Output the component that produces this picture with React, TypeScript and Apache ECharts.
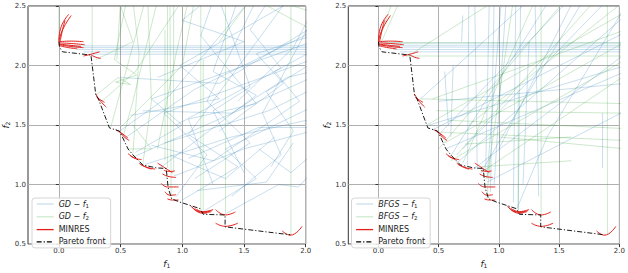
import React, { useEffect, useRef } from "react";
import * as echarts from "echarts";

type Pt = [number, number];

const xTicks = [0, 0.5, 1.0, 1.5, 2.0];
const yTicks = [0.5, 1.0, 1.5, 2.0, 2.5];

const paretoFront: Pt[] = [
  [0.0, 2.2], [0.005, 2.155], [0.03, 2.115], [0.26, 2.088], [0.3, 1.748], [0.32, 1.72],
  [0.41, 1.476], [0.49, 1.45], [0.51, 1.41], [0.56, 1.3], [0.6, 1.25], [0.68, 1.165],
  [0.79, 1.14], [0.87, 1.135], [0.885, 0.975], [0.914, 0.88], [0.98, 0.853], [1.144, 0.798],
  [1.17, 0.75], [1.347, 0.745], [1.347, 0.645], [1.876, 0.578],
];

const minresCurves: Pt[][] = [
  [[0.0, 2.2], [0.1, 2.205], [0.2, 2.2]],
  [[0.0, 2.19], [0.1, 2.185], [0.21, 2.175]],
  [[0.0, 2.18], [0.09, 2.17], [0.18, 2.16]],
  [[0.0, 2.175], [0.1, 2.16], [0.2, 2.15]],
  [[0.01, 2.165], [0.08, 2.15], [0.15, 2.14]],
  [[0.0, 2.2], [0.03, 2.3], [0.1, 2.42]],
  [[0.0, 2.21], [0.02, 2.33], [0.08, 2.43]],
  [[0.01, 2.2], [0.03, 2.3], [0.05, 2.38]],
  [[0.2, 2.08], [0.26, 2.095], [0.33, 2.115]],
  [[0.26, 2.09], [0.3, 2.07], [0.34, 2.06]],
  [[0.3, 1.76], [0.33, 1.71], [0.385, 1.65]],
  [[0.31, 1.73], [0.34, 1.71], [0.37, 1.69]],
  [[0.46, 1.46], [0.51, 1.43], [0.56, 1.39]],
  [[0.5, 1.44], [0.53, 1.4], [0.57, 1.37]],
  [[0.56, 1.26], [0.6, 1.23], [0.64, 1.21]],
  [[0.58, 1.24], [0.62, 1.22], [0.67, 1.21]],
  [[0.65, 1.18], [0.7, 1.15], [0.78, 1.13]],
  [[0.66, 1.17], [0.72, 1.14], [0.75, 1.13]],
  [[0.8, 1.18], [0.86, 1.14], [0.92, 1.1]],
  [[0.85, 1.12], [0.9, 1.11], [0.94, 1.115]],
  [[0.84, 1.09], [0.88, 1.07], [0.95, 1.06]],
  [[0.83, 1.01], [0.88, 0.98], [0.97, 0.98]],
  [[0.86, 0.94], [0.9, 0.91], [0.95, 0.915]],
  [[0.88, 0.88], [0.92, 0.87], [0.97, 0.87]],
  [[1.07, 0.82], [1.15, 0.77], [1.25, 0.79]],
  [[1.1, 0.8], [1.17, 0.77], [1.24, 0.78]],
  [[1.12, 0.79], [1.18, 0.765], [1.23, 0.77]],
  [[1.08, 0.81], [1.16, 0.76], [1.2, 0.76]],
  [[1.27, 0.79], [1.35, 0.745], [1.43, 0.77]],
  [[1.27, 0.676], [1.35, 0.649], [1.45, 0.676]],
  [[1.81, 0.61], [1.876, 0.575], [1.97, 0.649]],
];

const gdF1Paths: Pt[][] = [
  [[2.2, 2.165], [0.05, 2.165]],
  [[2.2, 2.15], [0.1, 2.15]],
  [[2.2, 2.135], [0.15, 2.135]],
  [[2.2, 2.115], [0.2, 2.115]],
  [[2.2, 2.095], [0.27, 2.095]],
  [[0.6, 1.23], [1.3, 1.55], [2.05, 1.9]],
  [[0.52, 1.38], [1.1, 1.8], [2.05, 2.28]],
  [[0.48, 1.44], [0.9, 1.75], [1.55, 2.55]],
  [[0.62, 1.27], [1.0, 1.5], [0.75, 1.72], [2.05, 2.2]],
  [[0.7, 1.17], [1.4, 1.4], [2.05, 1.55]],
  [[0.82, 1.14], [1.6, 1.75], [1.25, 1.95], [1.45, 2.55]],
  [[0.93, 1.07], [1.5, 1.3], [2.05, 1.45]],
  [[0.95, 0.9], [1.2, 1.25], [0.85, 1.6], [2.05, 2.05]],
  [[1.0, 0.87], [1.45, 1.15], [1.05, 1.42], [1.85, 2.55]],
  [[1.18, 0.78], [1.6, 1.05], [1.35, 1.3], [2.05, 1.65]],
  [[1.36, 0.76], [1.78, 1.0], [1.94, 0.98], [2.05, 1.1]],
  [[1.4, 0.9], [1.8, 1.25], [1.65, 1.6], [2.05, 2.38]],
  [[1.1, 1.05], [1.55, 1.35], [1.2, 1.7], [1.6, 2.55]],
  [[0.75, 1.33], [1.25, 1.2], [1.95, 1.7], [1.75, 1.95], [2.05, 2.12]],
  [[0.58, 1.58], [1.3, 1.72], [0.98, 2.0], [1.9, 2.55]],
  [[0.86, 1.35], [1.7, 1.62], [2.05, 1.8]],
  [[1.5, 1.1], [1.25, 1.62], [1.55, 1.82], [1.3, 2.55]],
  [[1.72, 1.15], [1.9, 1.45], [1.68, 1.78], [2.05, 2.02]],
  [[1.05, 1.22], [1.62, 1.48], [2.05, 1.48]],
  [[0.5, 1.9], [1.3, 1.85], [2.05, 2.32]],
  [[1.25, 1.0], [1.05, 1.55], [1.6, 1.68], [1.15, 2.25], [1.25, 2.55]],
  [[1.62, 1.3], [1.88, 1.1], [2.05, 1.25]],
  [[0.95, 1.5], [1.8, 1.98], [1.55, 2.3], [1.7, 2.55]],
  [[1.12, 0.95], [1.68, 1.02], [1.9, 1.35]],
  [[0.68, 1.62], [1.4, 1.6], [1.85, 1.9], [2.05, 1.95]],
  [[1.3, 1.45], [1.82, 1.85], [1.6, 2.1], [2.05, 2.25]],
  [[0.8, 1.9], [1.5, 2.2], [1.0, 2.38], [1.2, 2.55]],
  [[1.45, 1.7], [1.9, 2.15], [2.05, 2.45]],
  [[0.9, 1.25], [1.35, 1.05], [1.75, 1.4]],
];

const gdF2Paths: Pt[][] = [
  [[0.0, 2.55], [0.0, 2.2]],
  [[0.27, 2.55], [0.27, 2.1]],
  [[0.5, 2.55], [0.47, 2.05]],
  [[0.88, 2.55], [0.88, 1.14]],
  [[0.9, 2.55], [0.91, 0.9]],
  [[0.86, 2.3], [0.86, 1.2]],
  [[0.93, 2.55], [0.93, 1.1]],
  [[1.15, 2.55], [1.15, 0.78]],
  [[1.17, 2.05], [1.17, 0.78]],
  [[1.35, 2.55], [1.35, 0.75]],
  [[1.88, 2.55], [1.88, 0.58]],
  [[0.3, 1.75], [0.48, 1.9], [0.58, 1.84], [0.46, 1.86], [0.63, 1.92], [0.45, 2.05], [0.55, 2.55]],
  [[0.35, 1.7], [0.62, 1.95], [1.0, 2.55]],
  [[0.42, 1.48], [0.7, 2.55]],
  [[0.52, 1.4], [0.6, 1.7], [0.8, 2.55]],
  [[0.6, 1.25], [0.65, 2.1], [0.6, 2.55]],
  [[0.68, 1.17], [0.75, 1.7], [0.72, 2.55]],
  [[0.3, 2.05], [0.6, 2.2], [0.5, 2.5]],
  [[0.5, 1.48], [1.0, 2.0], [1.1, 2.55]],
  [[0.8, 1.3], [0.95, 2.1], [1.05, 2.55]],
  [[1.6, 2.55], [2.05, 2.3]],
  [[1.75, 2.55], [2.05, 2.45]],
  [[1.3, 2.2], [1.55, 2.55]],
  [[0.55, 1.3], [0.75, 1.3], [0.6, 1.5]],
];

const bfgsF1Paths: Pt[][] = [
  [[2.2, 2.19], [0.02, 2.19]],
  [[2.2, 2.17], [0.04, 2.17]],
  [[2.2, 2.155], [0.08, 2.155]],
  [[2.2, 2.135], [0.12, 2.135]],
  [[2.2, 2.115], [0.18, 2.115]],
  [[0.7, 2.42], [0.69, 2.2]],
  [[0.75, 2.55], [0.74, 1.16]],
  [[0.8, 2.5], [0.82, 1.13]],
  [[0.92, 2.55], [0.89, 1.12]],
  [[0.96, 2.55], [0.93, 0.94]],
  [[1.02, 2.55], [0.9, 1.05]],
  [[1.06, 2.55], [0.96, 1.0]],
  [[1.14, 2.55], [1.12, 0.85]],
  [[1.18, 2.55], [1.16, 0.78]],
  [[0.62, 2.0], [0.6, 1.4]],
  [[0.55, 1.95], [0.58, 1.5]],
  [[1.25, 2.2], [1.2, 1.0]],
  [[1.3, 2.55], [1.33, 0.9]],
  [[1.86, 1.6], [1.86, 1.14]],
  [[0.45, 1.46], [2.05, 2.28]],
  [[0.5, 1.42], [1.58, 2.55]],
  [[0.56, 1.3], [2.05, 1.95]],
  [[0.6, 1.24], [1.42, 2.55]],
  [[0.66, 1.19], [2.05, 2.42]],
  [[0.8, 1.14], [2.05, 2.1]],
  [[0.9, 1.02], [2.05, 1.62]],
  [[1.0, 1.3], [1.62, 2.55]],
  [[0.35, 1.72], [1.25, 2.55]],
  [[0.42, 1.5], [2.05, 2.0]],
  [[0.7, 1.3], [1.9, 2.55]],
  [[0.85, 1.1], [1.7, 2.55]],
  [[0.5, 1.7], [2.05, 1.85]],
  [[1.15, 0.8], [1.4, 1.4], [2.05, 2.5]],
];

const bfgsF2Paths: Pt[][] = [
  [[0.0, 2.2], [0.12, 2.55]],
  [[0.02, 2.19], [0.18, 2.55]],
  [[0.3, 2.115], [0.9, 2.5]],
  [[2.2, 2.19], [0.05, 2.19]],
  [[2.2, 2.08], [0.22, 2.08]],
  [[0.35, 1.72], [2.05, 1.68]],
  [[0.48, 1.62], [2.05, 1.6]],
  [[0.58, 1.54], [2.05, 1.47]],
  [[0.52, 1.44], [2.05, 1.37]],
  [[0.72, 1.34], [1.6, 1.4]],
  [[0.85, 1.15], [1.6, 1.2]],
  [[0.4, 1.5], [2.05, 2.45]],
  [[0.5, 1.3], [1.55, 2.55]],
  [[0.6, 1.2], [2.05, 2.05]],
  [[0.7, 1.18], [1.3, 2.55]],
  [[0.45, 1.72], [2.05, 2.3]],
  [[0.85, 1.1], [2.05, 1.92]],
  [[0.9, 1.05], [1.12, 2.55]],
  [[0.55, 1.35], [2.05, 2.2]],
  [[0.65, 1.25], [1.8, 2.55]],
  [[1.35, 2.55], [1.35, 0.75]],
  [[1.9, 2.55], [1.9, 0.58]],
  [[1.16, 1.8], [1.16, 0.78]],
  [[0.93, 1.25], [0.9, 0.88]],
  [[1.0, 1.4], [2.05, 1.3]],
  [[0.75, 1.5], [2.05, 2.55]],
];

const FONT = "DejaVu Sans";
const BLUE = "rgba(31,119,180,0.24)";
const GREEN = "rgba(44,160,44,0.24)";
const RED = "#e3211c";

const labelMap: Record<string, string> = {
  "GD-f1": "{it|GD} − {it|f}{sub|1}",
  "GD-f2": "{it|GD} − {it|f}{sub|2}",
  "BFGS-f1": "{it|BFGS} − {it|f}{sub|1}",
  "BFGS-f2": "{it|BFGS} − {it|f}{sub|2}",
};

const rich = {
  it: { fontStyle: "italic", fontSize: 8, fontFamily: FONT, color: "#222" },
  sub: { fontSize: 5.5, fontFamily: FONT, color: "#222", verticalAlign: "bottom", padding: [3, 0, 0, 0] },
};

const nameRich = {
  it: { fontStyle: "italic", fontSize: 9, fontFamily: FONT, color: "#222" },
  sub: { fontSize: 6, fontFamily: FONT, color: "#222", verticalAlign: "bottom", padding: [3, 0, 0, 0] },
};

function pathSeries(paths: Pt[][], name: string, color: string, idx: number, smooth = false, z = 2) {
  return paths.map((p) => ({
    type: "line",
    name,
    xAxisIndex: idx,
    yAxisIndex: idx,
    data: p,
    symbol: "none",
    showSymbol: false,
    smooth,
    silent: true,
    z,
    lineStyle: { color, width: 1 },
    itemStyle: { color },
  }));
}

function paretoSeries(idx: number) {
  return {
    type: "line",
    name: "Pareto front",
    xAxisIndex: idx,
    yAxisIndex: idx,
    data: paretoFront,
    symbol: "none",
    showSymbol: false,
    silent: true,
    z: 5,
    lineStyle: { color: "#000", width: 0.9, type: [5, 2, 1.2, 2] },
    itemStyle: { color: "#000" },
  };
}

function makeXAxis(i: number) {
  return {
    type: "value",
    gridIndex: i,
    min: -0.25,
    max: 2.0,
    name: "{it|f}{sub|1}",
    nameLocation: "middle",
    nameGap: 13,
    nameTextStyle: { fontSize: 9, fontFamily: FONT, color: "#222", rich: nameRich },
    axisLine: { show: false },
    axisTick: { show: true, length: 3, customValues: xTicks, lineStyle: { color: "#333" } },
    axisLabel: {
      customValues: xTicks,
      formatter: (v: number) => v.toFixed(1),
      fontSize: 7,
      fontFamily: FONT,
      color: "#333",
      margin: 3,
    },
    splitLine: { show: true, lineStyle: { color: "#b0b0b0", width: 1 } },
  };
}

function makeYAxis(i: number) {
  return {
    type: "value",
    gridIndex: i,
    min: 0.5,
    max: 2.5,
    interval: 0.5,
    name: "{it|f}{sub|2}",
    nameLocation: "middle",
    nameGap: i === 0 ? 5 : 14,
    nameRotate: 90,
    nameTextStyle: { fontSize: 9, fontFamily: FONT, color: "#222", rich: nameRich },
    axisLine: { show: false },
    axisTick: { show: true, length: 3, lineStyle: { color: "#333" } },
    axisLabel: {
      formatter: (v: number) => v.toFixed(1),
      fontSize: 7,
      fontFamily: FONT,
      color: "#333",
      margin: 2,
    },
    splitLine: { show: true, lineStyle: { color: "#b0b0b0", width: 1 } },
  };
}

function makeLegend(left: number, names: string[]) {
  return {
    data: names,
    left,
    top: 198,
    orient: "vertical",
    itemWidth: 17,
    itemHeight: 8,
    itemGap: 4.3,
    padding: [2, 5, 2, 4],
    backgroundColor: "rgba(255,255,255,0.85)",
    borderColor: "#d5d5d5",
    borderWidth: 1,
    borderRadius: 3,
    selectedMode: false,
    itemStyle: { opacity: 0, borderWidth: 0 },
    lineStyle: { width: 1.3 },
    formatter: (name: string) => labelMap[name] || name,
    textStyle: { fontSize: 8, fontFamily: FONT, color: "#222", rich },
  };
}

export default function App() {
  const ref = useRef<HTMLDivElement>(null);
  useEffect(() => {
    if (!ref.current) return;
    const chart = echarts.init(ref.current, undefined, { renderer: "svg" });
    const series: any[] = [
      ...pathSeries(gdF1Paths, "GD-f1", BLUE, 0),
      ...pathSeries(gdF2Paths, "GD-f2", GREEN, 0),
      ...pathSeries(minresCurves, "MINRES", RED, 0, true, 4),
      paretoSeries(0),
      ...pathSeries(bfgsF1Paths, "BFGS-f1", BLUE, 1),
      ...pathSeries(bfgsF2Paths, "BFGS-f2", GREEN, 1),
      ...pathSeries(minresCurves, "MINRES", RED, 1, true, 4),
      paretoSeries(1),
    ];
    chart.setOption({
      animation: false,
      grid: [
        { left: 28, top: 6, width: 277.7, height: 245.7, show: true, borderColor: "#333", borderWidth: 1, containLabel: false },
        { left: 348.3, top: 6, width: 276.7, height: 245.7, show: true, borderColor: "#333", borderWidth: 1, containLabel: false },
      ],
      xAxis: [makeXAxis(0), makeXAxis(1)],
      yAxis: [makeYAxis(0), makeYAxis(1)],
      legend: [
        makeLegend(32, ["GD-f1", "GD-f2", "MINRES", "Pareto front"]),
        makeLegend(351.5, ["BFGS-f1", "BFGS-f2", "MINRES", "Pareto front"]),
      ],
      series,
    });
    return () => chart.dispose();
  }, []);
  return (
    <div
      ref={ref}
      style={{ position: "absolute", left: 0, top: 0, width: 628, height: 273 }}
    />
  );
}
